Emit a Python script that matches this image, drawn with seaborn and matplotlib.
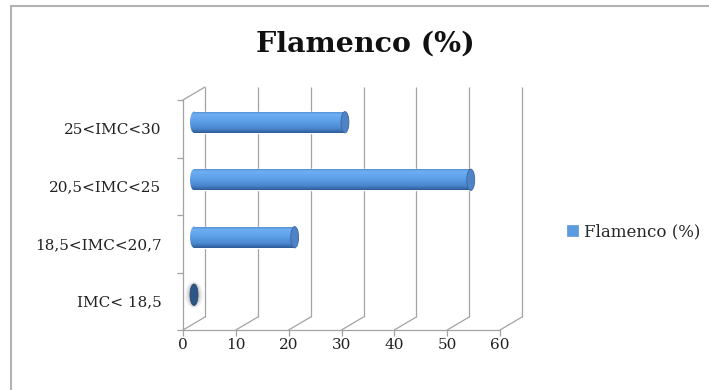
import numpy as np
import pandas as pd
import matplotlib
matplotlib.use("Agg")
import matplotlib.pyplot as plt
import seaborn as sns
from matplotlib.patches import Ellipse, Patch
from matplotlib.lines import Line2D
from matplotlib.colors import LinearSegmentedColormap

# ---- data ----
categories = ["25<IMC<30", "20,5<IMC<25", "18,5<IMC<20,7", "IMC< 18,5"]
values = [28.57, 52.38, 19.05, 0.0]
series_name = "Flamenco (%)"
x_ticks = [0, 10, 20, 30, 40, 50, 60]

df = pd.DataFrame({"categoria": categories, "valor": values})

W, H, DPI = 709, 390, 100
sns.set_theme(style="white")
plt.rcParams["font.family"] = ["DejaVu Serif"]

fig = plt.figure(figsize=(W / DPI, H / DPI), dpi=DPI)
fig.patch.set_facecolor("white")


def px_axes(left, top, right, bottom):
    return fig.add_axes([left / W, 1 - bottom / H, (right - left) / W, (bottom - top) / H])


# pseudo-3D planes: front, back and the middle plane where the cylinders sit
DX, DY = 22, 13
front_box = (183, 100, 500, 330)
back_box = (183 + DX, 100 - DY, 500 + DX, 330 - DY)
mid_box = (183 + DX / 2, 100 - DY / 2, 500 + DX / 2, 330 - DY / 2)

ax_back = px_axes(*back_box)
ax_front = px_axes(*front_box)
ax_mid = px_axes(*mid_box)

XLIM = (0, 60)
YLIM = (3.5, -0.5)
GRID = "#a3a3a3"
LW = 0.9

for a in (ax_back, ax_front, ax_mid):
    a.set_facecolor("none")

# ---- back wall gridlines ----
ax_back.vlines(x_ticks, -0.5, 3.5, color=GRID, lw=LW, clip_on=False)
ax_back.set_xlim(*XLIM)
ax_back.set_ylim(*YLIM)
ax_back.set_axis_off()

# ---- front axes (labels, spines, ticks) ----
ax_front.set_xlim(*XLIM)
ax_front.set_ylim(*YLIM)
for side in ("top", "right"):
    ax_front.spines[side].set_visible(False)
for side in ("left", "bottom"):
    ax_front.spines[side].set_color(GRID)
    ax_front.spines[side].set_linewidth(LW)
ax_front.set_xticks(x_ticks)
ax_front.set_xticklabels([str(t) for t in x_ticks], fontsize=11, color="#222222")
ax_front.set_yticks(range(len(categories)))
ax_front.set_yticklabels(categories, fontsize=11, color="#222222")
ax_front.set_yticks(np.arange(-0.5, 4.0, 1.0), minor=True)
ax_front.tick_params(axis="x", which="major", direction="out", length=4,
                     width=LW, color=GRID, pad=2, bottom=True)
ax_front.tick_params(axis="y", which="major", length=0, pad=15.5, left=True)
ax_front.tick_params(axis="y", which="minor", direction="out", length=4,
                     width=LW, color=GRID, left=True)
ax_front.grid(False)

# ---- cylinders ----
sns.barplot(data=df, x="valor", y="categoria", orient="h", order=categories,
            width=0.37, color="#5b9be0", ax=ax_mid, saturation=1)
ax_mid.set_xlim(*XLIM)
ax_mid.set_ylim(*YLIM)

cyl = LinearSegmentedColormap.from_list(
    "cyl", [(0.0, "#4f86c8"), (0.15, "#6eaef3"), (0.45, "#5ea1e9"),
            (0.8, "#4a87cf"), (1.0, "#2f5c98")])
grad = np.linspace(0, 1, 64).reshape(-1, 1)
cap_w = 1.5

for patch, val in zip(list(ax_mid.patches), values):
    x0, y0 = patch.get_x(), patch.get_y()
    w, h = patch.get_width(), patch.get_height()
    yc = y0 + h / 2
    if w > 0:
        # rounded start of the cylinder, shaded like the body
        start = Ellipse((0, yc), cap_w, h, facecolor="none", edgecolor="none")
        ax_mid.add_patch(start)
        im0 = ax_mid.imshow(grad, cmap=cyl, aspect="auto", origin="upper",
                            extent=(-cap_w / 2, cap_w / 2, y0 + h, y0), zorder=2)
        im0.set_clip_box(fig.bbox)
        im0.set_clip_path(start)
        im = ax_mid.imshow(grad, cmap=cyl, aspect="auto", origin="upper",
                           extent=(x0, x0 + w, y0 + h, y0), zorder=2)
        im.set_clip_path(patch)
        patch.set_zorder(2)
        # end cap
        ax_mid.add_patch(Ellipse((val, yc), cap_w, h, facecolor="#4f83c6",
                                 edgecolor="#3a66a4", lw=0.6, zorder=3,
                                 clip_on=False))
    else:
        # zero-length cylinder: only the face remains, with a soft shadow
        for k, a in zip([2.6, 2.1, 1.7, 1.35], [0.07, 0.11, 0.17, 0.25]):
            ax_mid.add_patch(Ellipse((val, yc), cap_w * k * 0.9, h * (0.85 + 0.15 * k),
                                     facecolor="#707070", alpha=a,
                                     edgecolor="none", zorder=2, clip_on=False))
        ax_mid.add_patch(Ellipse((val, yc), cap_w, h,
                                 facecolor="#2c5688", edgecolor="#1f3f66",
                                 lw=0.5, zorder=3, clip_on=False))

ax_mid.set_xlim(*XLIM)
ax_mid.set_ylim(*YLIM)
ax_mid.set_axis_off()

# ---- floor and wall diagonals ----
to_fig = fig.transFigure.inverted()


def link(p, q):
    a = to_fig.transform(ax_front.transData.transform(p))
    b = to_fig.transform(ax_back.transData.transform(q))
    fig.add_artist(Line2D([a[0], b[0]], [a[1], b[1]], color=GRID, lw=LW))


for xt in x_ticks:
    link((xt, 3.5), (xt, 3.5))
link((0, -0.5), (0, -0.5))

# ---- title, legend, chart border ----
fig.text(365 / W, 1 - 44 / H, "Flamenco (%)", ha="center", va="center",
         fontsize=20.5, fontweight="bold", color="#111111")

fig.legend(handles=[Patch(facecolor="#5b9be0", edgecolor="#4a88d0", lw=0.4)],
           labels=[series_name], loc="center left",
           bbox_to_anchor=(567 / W, 1 - 232 / H), frameon=False,
           handlelength=0.65, handleheight=0.65, handletextpad=0.4,
           fontsize=12, borderaxespad=0, borderpad=0)

fig.add_artist(Line2D([11 / W, 11 / W], [0, 1 - 6 / H], color="#b3b3b3", lw=1.5))
fig.add_artist(Line2D([11 / W, 1], [1 - 6 / H, 1 - 6 / H], color="#b3b3b3", lw=1.5))

fig.savefig("out.png", dpi=DPI)
